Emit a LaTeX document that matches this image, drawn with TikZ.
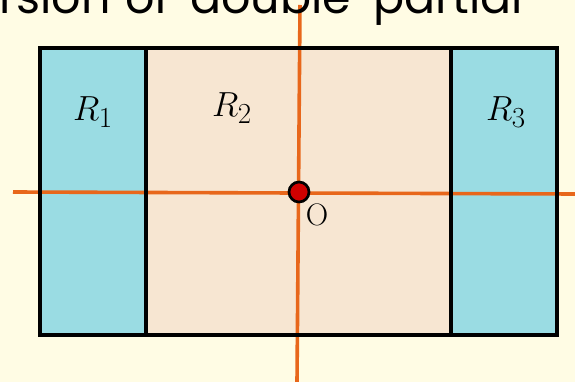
\documentclass[tikz,border=0pt]{standalone}
\usepackage{fontspec}
\newfontfamily\titlefont{Poppins}
\definecolor{bg}{HTML}{FFFCE4}
\definecolor{cyanreg}{HTML}{9ADCE3}
\definecolor{beigereg}{HTML}{F7E6D2}
\definecolor{orangeline}{HTML}{E8671B}
\definecolor{dotred}{HTML}{D00000}
\tikzset{
  axis/.style={orangeline, line width=3.6pt},
  border/.style={black, line width=3.2pt},
  rlabel/.style={font=\Huge, scale=1.4},
  word/.style={anchor=base west, inner sep=0pt, font=\titlefont\fontsize{46}{46}\selectfont},
}
\begin{document}
\begin{tikzpicture}[x=1pt,y=-1pt]
\fill[bg] (0,0) rectangle (575,382);
\useasboundingbox (0,0) rectangle (575,382);
% regions
\fill[cyanreg] (40,48) rectangle (146,335);
\fill[beigereg] (146,48) rectangle (451,335);
\fill[cyanreg] (451,48) rectangle (557,335);
% axes
\coordinate (hl) at (13,192);
\coordinate (hr) at (575,194);
\coordinate (vt) at (300,5);
\coordinate (vb) at (297,382);
\draw[axis] (hl) -- (hr);
\draw[axis] (vt) -- (vb);
% title fragment
\node[word, anchor=base east] (w1) at (111,14) {version};
\node[word] (w2) at (125,14) {of};
\node[word] (w3) at (190,14) {double};
\node[word] (w4) at (373,14) {partial};
% borders
\draw[border] (40,48) rectangle (557,335);
\draw[border] (146,48) -- (146,335);
\draw[border] (451,48) -- (451,335);
% labels
\node[rlabel] (r1) at (93,112) {$R_1$};
\node[rlabel] (r2) at (232,108) {$R_2$};
\node[rlabel] (r3) at (506,112) {$R_3$};
% origin
\node[circle, fill=dotred, draw=black, line width=2.7pt, minimum size=20pt, inner sep=0pt] (o) at (299,192) {};
\node[font=\Huge, scale=1.25, inner sep=0pt] (olabel) at (317,215) {$\mathrm{O}$};
\end{tikzpicture}
\end{document}
